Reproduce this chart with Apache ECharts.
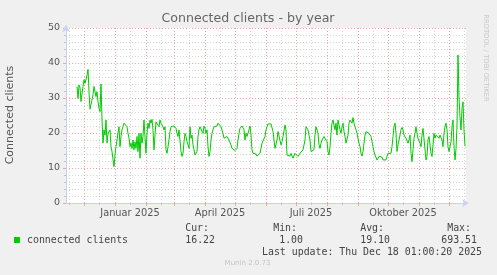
<!DOCTYPE html>
<html><head><meta charset="utf-8">
<script src="https://cdn.jsdelivr.net/npm/echarts@6/dist/echarts.min.js"></script>
<style>html,body{margin:0;padding:0;background:#f0f0f0;overflow:hidden}#c{width:497px;height:275px}</style>
</head><body><div id="c"></div>
<script>
const titleText = 'Connected clients - by year';
const yAxisTitle = 'Connected clients';
const seriesName = 'connected clients';
const firstValueDate = [2024, 10, 24]; // 24 Nov 2024, one value per day
const values = [
33.3,29.9,33.7,33.0,29.0,29.4,33.3,35.2,34.2,34.7,
36.5,38.2,31.8,26.8,27.0,27.1,30.9,33.3,33.5,30.4,
31.8,29.0,27.1,26.1,34.0,23.7,17.1,20.9,19.4,23.7,
17.1,19.9,19.4,20.9,16.1,14.7,12.5,10.4,13.7,16.1,
18.0,20.0,21.8,16.1,19.0,20.9,21.8,22.8,23.0,23.2,
21.8,19.9,18.5,16.1,17.1,15.6,18.0,15.2,17.5,15.6,
19.0,14.7,19.9,12.8,19.9,17.1,19.0,23.7,23.2,14.2,
19.9,22.8,21.3,23.7,22.8,23.9,20.9,15.2,19.4,23.2,
22.8,23.7,21.8,23.7,22.8,22.3,21.8,20.9,21.8,15.2,
14.2,16.1,18.0,20.4,21.8,22.3,22.3,22.0,21.8,21.3,
19.9,19.0,20.9,20.9,14.7,13.3,14.2,17.5,19.9,19.0,
17.5,16.6,15.6,21.8,18.5,19.4,16.6,15.2,13.7,13.3,
14.7,19.0,20.9,21.8,22.3,21.8,19.9,22.0,21.3,19.9,
20.9,16.1,13.3,14.7,18.0,19.9,20.9,21.8,21.3,21.8,
22.0,22.8,23.0,22.3,21.8,20.9,19.9,18.5,19.0,18.8,
19.0,19.0,18.0,17.5,16.6,15.6,16.1,15.6,15.0,14.7,
15.6,18.0,19.9,21.3,21.8,22.0,21.8,20.9,18.0,19.9,
19.0,18.5,20.9,22.0,19.4,15.2,14.2,13.7,14.2,14.0,
13.4,13.1,13.7,14.2,15.6,17.1,17.5,16.6,19.0,20.9,
21.8,22.6,23.0,22.8,22.6,22.3,20.4,18.0,15.6,15.2,
18.0,20.4,20.9,19.9,16.6,17.5,19.0,19.4,22.3,20.9,
13.7,14.2,14.0,13.4,14.2,13.7,12.8,13.3,14.2,14.7,
13.7,13.3,13.7,14.2,14.7,14.4,15.2,16.6,18.0,21.8,
21.8,20.9,19.4,18.0,14.7,14.2,14.7,15.2,19.4,21.8,
22.3,19.9,16.6,15.6,17.1,18.0,18.5,19.0,18.8,18.5,
17.5,14.7,13.7,16.1,19.9,22.8,23.7,23.2,20.9,22.8,
19.4,23.7,24.2,20.9,19.9,21.8,22.8,20.4,19.0,17.1,
16.6,19.4,22.8,23.7,23.7,22.8,24.4,22.8,21.8,20.9,
19.9,19.4,17.1,16.1,14.2,13.4,14.7,17.1,19.4,20.4,
20.9,20.4,19.9,19.4,19.0,17.5,16.1,14.7,13.7,13.3,
12.3,12.8,13.3,12.8,13.3,13.1,12.3,12.5,12.1,12.3,
13.3,14.2,14.4,13.7,14.2,16.1,19.0,21.8,22.8,19.9,
14.7,16.6,18.0,19.4,20.9,21.6,20.9,19.4,19.9,18.5,
19.0,17.1,18.0,19.4,14.2,11.8,15.2,18.5,19.9,21.8,
19.9,18.5,18.0,17.1,16.1,19.4,21.3,21.8,20.9,12.3,
13.3,18.0,19.0,19.4,14.2,13.3,16.6,19.9,18.5,19.4,
19.9,19.0,18.5,19.4,19.9,18.0,16.1,19.9,21.8,22.8,
20.9,16.1,14.7,15.2,17.5,21.8,23.7,16.1,12.3,15.5,
22.0,42.3,30.0,24.6,20.9,27.0,28.9,20.9,16.2
];
const yTicks = [0, 10, 20, 30, 40, 50];
const monthNames = ['Januar','Februar','März','April','Mai','Juni','Juli','August','September','Oktober','November','Dezember'];
const labelMonths = [[2025,0],[2025,3],[2025,6],[2025,9]];
const statLabels = ['Cur:', 'Min:', 'Avg:', 'Max:'];
const statValues = ['16.22', '1.00', '19.10', '693.51'];
const lastUpdate = 'Last update: Thu Dec 18 01:00:20 2025';
const footerText = 'Munin 2.0.73';
const watermark = 'RRDTOOL / TOBI OETIKER';

const rangeStart = new Date(2024, 10, 13, 1, 0).getTime();
const rangeEnd = new Date(2025, 11, 18, 1, 0).getTime();
const seriesData = values.map((v, i) => [new Date(firstValueDate[0], firstValueDate[1], firstValueDate[2] + i, 1).getTime(), v]);

const monthStarts = [], midMonths = [];
for (let k = 0; k < 15; k++) {
  const a = new Date(2024, 10 + k, 1).getTime();
  const b = new Date(2024, 10 + k, 16).getTime();
  if (a > rangeStart && a < rangeEnd) monthStarts.push(a);
  if (b > rangeStart && b < rangeEnd) midMonths.push(b);
}
const labelValues = labelMonths.map(m => new Date(m[0], m[1], 16).getTime());

const RED = '#efa3a3', GREY = '#d6d6d6', AXIS = '#c9d0f5', FONT = '#555';
const chart = echarts.init(document.getElementById('c'), null, {renderer: 'canvas'});
chart.setOption({
  animation: false,
  backgroundColor: '#f0f0f0',
  grid: {left: 66, top: 28, width: 400, height: 175, show: true, backgroundColor: '#ffffff', borderWidth: 0},
  xAxis: [{
    type: 'value', min: rangeStart, max: rangeEnd, scale: true,
    axisLine: {lineStyle: {color: AXIS, width: 1}, symbol: ['none', 'arrow'], symbolSize: [6, 7], symbolOffset: [0, 3]},
    axisTick: {show: true, length: 3, customValues: monthStarts, lineStyle: {color: RED}},
    axisLabel: {customValues: labelValues, margin: 5, color: FONT, fontSize: 9.8, fontFamily: 'DejaVu Sans',
      formatter: v => { const d = new Date(v); return monthNames[d.getMonth()] + ' ' + d.getFullYear(); }},
    splitLine: {show: false}, minorTick: {show: false}
  }, {
    type: 'value', min: rangeStart, max: rangeEnd, scale: true, position: 'bottom',
    axisLine: {show: false},
    axisTick: {show: true, length: 2, customValues: midMonths, lineStyle: {color: '#c4c4c4'}},
    axisLabel: {show: false}, splitLine: {show: false}
  }],
  yAxis: {
    type: 'value', min: 0, max: 50, interval: 10,
    axisLine: {show: true, lineStyle: {color: AXIS, width: 1}, symbol: ['none', 'arrow'], symbolSize: [6, 7], symbolOffset: [0, 3]},
    axisTick: {show: true, length: 3, lineStyle: {color: RED}},
    minorTick: {show: true, splitNumber: 5, length: 2, lineStyle: {color: '#c4c4c4'}},
    axisLabel: {margin: 6, color: FONT, fontSize: 9.5, fontFamily: 'DejaVu Sans'},
    splitLine: {show: true, lineStyle: {color: RED, type: [1, 2], width: 1}},
    minorSplitLine: {show: true, lineStyle: {color: GREY, type: [1, 2], width: 1}}
  },
  series: [{
    type: 'line', data: [], silent: true,
    markLine: {
      silent: true, z: 1, symbol: ['none', 'none'], label: {show: false}, animation: false,
      data: monthStarts.map(t => ({xAxis: t, lineStyle: {color: RED, type: [1, 2], width: 1}}))
        .concat(midMonths.map(t => ({xAxis: t, lineStyle: {color: GREY, type: [1, 2], width: 1}})))
    }
  }, {
    name: seriesName, type: 'line', z: 3, data: seriesData, showSymbol: false, symbol: 'none',
    lineStyle: {color: '#00cc00', width: 1}, silent: true
  }],
  graphic: [
    {type: 'text', x: 248, y: 19, style: {text: titleText, fill: '#666', font: '12.6px "DejaVu Sans"', align: 'center', verticalAlign: 'middle'}},
    {type: 'text', x: 10.5, y: 115, rotation: Math.PI / 2, style: {text: yAxisTitle, fill: FONT, font: '11px "DejaVu Sans"', align: 'center', verticalAlign: 'middle'}},
    {type: 'text', x: 486, y: 58, rotation: -Math.PI / 2, style: {text: watermark, fill: '#c8c8c8', font: '6.8px "DejaVu Sans"', align: 'center', verticalAlign: 'middle'}},
    {type: 'rect', shape: {x: 14, y: 237, width: 6, height: 6}, style: {fill: '#00cc00'}},
    {type: 'text', x: 27, y: 240, style: {text: seriesName, fill: '#444', font: '9.9px "DejaVu Sans Mono"', align: 'left', verticalAlign: 'middle'}},
    ...statLabels.map((t, i) => ({type: 'text', x: [209, 297, 384, 471][i], y: 228, style: {text: t, fill: '#444', font: '9.9px "DejaVu Sans Mono"', align: 'right', verticalAlign: 'middle'}})),
    ...statValues.map((t, i) => ({type: 'text', x: [215, 303, 390, 477][i], y: 240, style: {text: t, fill: '#444', font: '9.9px "DejaVu Sans Mono"', align: 'right', verticalAlign: 'middle'}})),
    {type: 'text', x: 482, y: 252, style: {text: lastUpdate, fill: '#444', font: '9.9px "DejaVu Sans Mono"', align: 'right', verticalAlign: 'middle'}},
    {type: 'text', x: 247.5, y: 263.5, style: {text: footerText, fill: '#c4c4c4', font: '7px "DejaVu Sans"', align: 'center', verticalAlign: 'middle'}}
  ]
});
</script>
</body></html>
